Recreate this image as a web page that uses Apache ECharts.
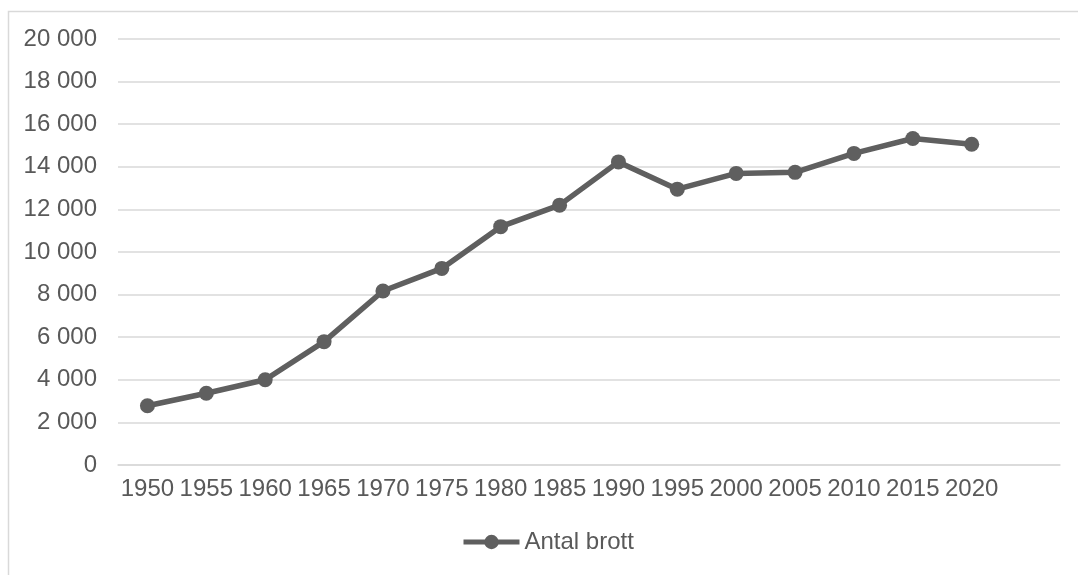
<!DOCTYPE html>
<html>
<head>
<meta charset="utf-8">
<script src="https://cdn.jsdelivr.net/npm/echarts@6/dist/echarts.min.js"></script>
<style>
html,body{margin:0;padding:0;background:#fff;}
#c{width:1078px;height:575px;}
</style>
</head>
<body>
<div id="c"></div>
<script>
const years = ['1950','1955','1960','1965','1970','1975','1980','1985','1990','1995','2000','2005','2010','2015','2020',''];
const antalBrott = [2780,3370,4000,5790,8170,9230,11190,12200,14230,12950,13690,13740,14630,15330,15060];
const seriesName = 'Antal brott';
const yMin = 0, yMax = 20000, yStep = 2000;

const chart = echarts.init(document.getElementById('c'), null, {renderer:'canvas'});
const font = '"Liberation Sans", Arial, sans-serif';
const txt = '#595959';
chart.setOption({
  animation:false,
  backgroundColor:'#ffffff',
  textStyle:{fontFamily:font},
  graphic:[{
    type:'rect', left:6, top:9, silent:true, z:-10,
    shape:{width:1200, height:700},
    style:{fill:'none', stroke:'#d9d9d9', lineWidth:1.5}
  }],
  grid:{left:118, right:18, top:39, bottom:110, containLabel:false},
  legend:{
    bottom:16, left:461, padding:[5,0,5,0],
    itemWidth:56, itemHeight:18, itemGap:10,
    lineStyle:{width:5, color:'#5f5f5f'},
    itemStyle:{color:'#5f5f5f'},
    textStyle:{color:txt, fontSize:24, fontFamily:font},
    data:[seriesName]
  },
  xAxis:{
    type:'category', data:years, boundaryGap:true,
    axisLine:{show:true, lineStyle:{color:'#d9d9d9', width:1.5}},
    axisTick:{show:false},
    axisLabel:{color:txt, fontSize:24, fontFamily:font, margin:12, interval:0, hideOverlap:false}
  },
  yAxis:{
    type:'value', min:yMin, max:yMax, interval:yStep,
    axisLine:{show:false}, axisTick:{show:false},
    splitLine:{lineStyle:{color:'#d9d9d9', width:1.5}},
    axisLabel:{color:txt, fontSize:24, fontFamily:font, margin:21,
      formatter:v => String(v).replace(/\B(?=(\d{3})+(?!\d))/g,' ')}
  },
  series:[{
    name:seriesName, type:'line', data:antalBrott,
    symbol:'circle', symbolSize:15,
    lineStyle:{color:'#5f5f5f', width:5.5},
    itemStyle:{color:'#5f5f5f'}
  }]
});
</script>
</body>
</html>
